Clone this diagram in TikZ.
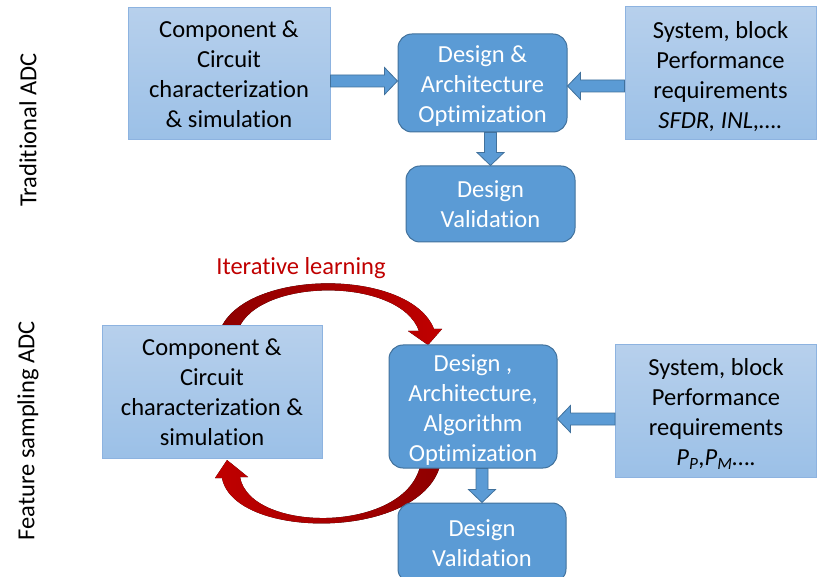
\documentclass[tikz,border=0pt]{standalone}
\usepackage{fontspec}
\setmainfont{Carlito}[Ligatures=NoCommon]
\usetikzlibrary{calc}
\definecolor{ltop}{HTML}{B7D0EC}
\definecolor{lbot}{HTML}{9BC0E7}
\definecolor{lborder}{HTML}{8DB3E0}
\definecolor{accent}{HTML}{5B9BD5}
\definecolor{accentdark}{HTML}{41719C}
\definecolor{redA}{HTML}{C00000}
\definecolor{redB}{HTML}{8E0000}
\newcommand\liftline{\rule{0pt}{23pt}}
\tikzset{
  lightbox/.style={rectangle, top color=ltop, bottom color=lbot, draw=lborder, line width=1pt,
    align=center, font=\fontsize{24.5}{30}\selectfont, inner sep=0pt},
  darkbox/.style={rectangle, rounded corners=14pt, fill=accent, draw=accentdark, line width=1pt,
    align=center, text=white, font=\fontsize{24.5}{30}\selectfont, inner sep=0pt},
  barrow/.style={fill=accent, draw=accentdark, line width=0.8pt, line join=miter},
  sidelabel/.style={rotate=90, font=\fontsize{24.5}{30}\selectfont, inner sep=0pt},
}
\newcommand\blockarrow[2]{%
  \draw[barrow] let \p1=#1, \p2=#2, \n1={veclen(\x2-\x1,\y2-\y1)}, \n2={atan2(\y2-\y1,\x2-\x1)} in
    [shift={(\p1)}, rotate=\n2] (0pt,-6pt) -- (\n1-13pt,-6pt) -- (\n1-13pt,-13.5pt) -- (\n1,0pt)
    -- (\n1-13pt,13.5pt) -- (\n1-13pt,6pt) -- (0pt,6pt) -- cycle;}
\begin{document}
\begin{tikzpicture}[x=1pt,y=-1pt]
\useasboundingbox (0,0) rectangle (817,577);
\clip (0,0) rectangle (817,577);

% red curved arrows (behind boxes)
\fill[left color=redB, right color=redA]
  (220,330) .. controls (245,268) and (410,268) .. (434,329)
  -- (442,329) -- (428,345) -- (408,331) -- (419,331)
  .. controls (400,277) and (258,277) .. (238,330) -- cycle;
\fill[left color=redA, right color=redB]
  (441,462) .. controls (425,541) and (234,541) .. (222,478)
  -- (215,478) -- (227,460) -- (248,477) -- (240,477)
  .. controls (250,534) and (410,534) .. (421,462) -- cycle;

% side labels
\node[sidelabel] (lab1) at (28,130) {Traditional ADC};
\node[sidelabel] (lab2) at (28,431) {Feature sampling ADC};

% top row
\node[lightbox, minimum width=202pt, minimum height=132pt] (tl) at (229,74)
  {Component \&\\Circuit\\characterization\\\& simulation};
\node[darkbox, minimum width=169pt, minimum height=98pt] (tc) at (482.5,83)
  {\liftline Design \&\\Architecture\\Optimization};
\node[lightbox, minimum width=191pt, minimum height=133pt] (tr) at (720.5,73.5)
  {\liftline System, block\\Performance\\requirements\\\textit{SFDR, INL,….}};
\node[darkbox, minimum width=169pt, minimum height=76pt] (tv) at (490.5,204)
  {Design\\Validation};

\blockarrow{(tl.east |- 0,81)}{(tc.west |- 0,81)}
\blockarrow{(tr.west |- 0,86)}{(tc.east |- 0,86)}
\blockarrow{(tc.south -| tv.north)}{(tv.north)}

% bottom row
\node[text=redA, font=\fontsize{24.5}{30}\selectfont, inner sep=0pt] (iter) at (301,268) {Iterative learning};
\node[lightbox, minimum width=220pt, minimum height=132pt] (bl) at (212,392)
  {Component \&\\Circuit\\characterization \&\\simulation};
\node[darkbox, minimum width=168pt, minimum height=123pt] (bc) at (473,406.5)
  {\liftline Design ,\\Architecture,\\Algorithm\\Optimization};
\node[lightbox, minimum width=201pt, minimum height=132pt] (br) at (716,411)
  {\liftline System, block\\Performance\\requirements\\\textit{P}\textsubscript{\textit{P}},\textit{P}\textsubscript{\textit{M}}….};
\node[darkbox, minimum width=168pt, minimum height=80pt] (bv) at (482,543)
  {Design\\Validation};

\blockarrow{(br.west |- 0,419)}{(bc.east |- 0,419)}
\blockarrow{(bc.south -| bv.north)}{(bv.north)}
\end{tikzpicture}
\end{document}
